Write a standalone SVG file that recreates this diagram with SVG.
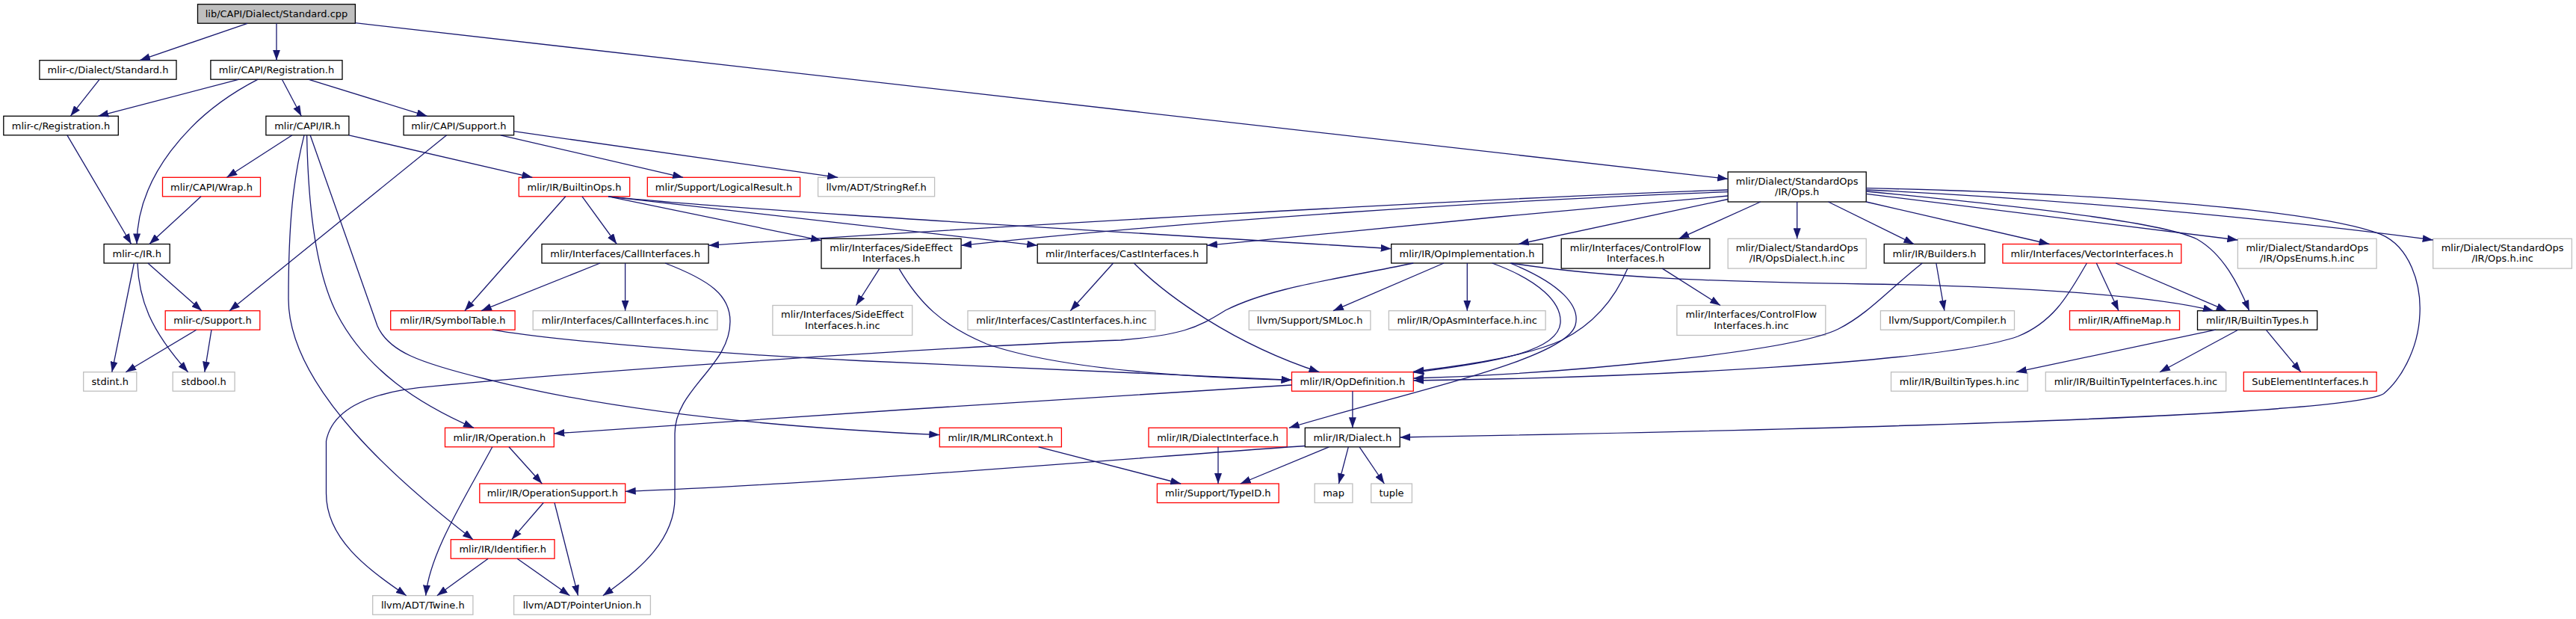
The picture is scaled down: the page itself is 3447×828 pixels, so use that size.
<svg xmlns="http://www.w3.org/2000/svg" width="3447" height="828" viewBox="0 0 3447 828">
<style>
rect{stroke-width:1.3}
.b rect{fill:#fff;stroke:#000}
.r rect{fill:#fff;stroke:#ff0000}
.g rect{fill:#fff;stroke:#bfbfbf}
.root rect{fill:#bfbfbf;stroke:#000}
text{font-family:"DejaVu Sans","Liberation Sans",sans-serif;font-size:13px;text-anchor:middle;fill:#000}
.e{fill:none;stroke:#191970;stroke-width:1.3;marker-end:url(#ah)}
</style>
<defs>
<marker id="ah" markerUnits="userSpaceOnUse" markerWidth="14" markerHeight="10" viewBox="0 0 14 10" refX="14" refY="5" orient="auto"><path d="M0,0 L14,5 L0,10 z" fill="#191970"/></marker>
</defs>
<rect width="3447" height="828" fill="#fff"/>
<g id="nodes">
<g id="n_root" class="root"><rect x="264.5" y="5.7" width="210.9" height="25.5"/><text x="370" y="22.95">lib/CAPI/Dialect/Standard.cpp</text></g>
<g id="n_cstd" class="b"><rect x="52.9" y="80.7" width="183.1" height="25.5"/><text x="144.5" y="97.95">mlir-c/Dialect/Standard.h</text></g>
<g id="n_capireg" class="b"><rect x="281.9" y="80.7" width="176.1" height="25.5"/><text x="370" y="97.95">mlir/CAPI/Registration.h</text></g>
<g id="n_creg" class="b"><rect x="4.8" y="155.3" width="153.5" height="25.5"/><text x="81.5" y="172.55">mlir-c/Registration.h</text></g>
<g id="n_capiir" class="b"><rect x="355.9" y="155.3" width="111" height="25.5"/><text x="411.4" y="172.55">mlir/CAPI/IR.h</text></g>
<g id="n_capisup" class="b"><rect x="540.1" y="155.3" width="147.5" height="25.5"/><text x="613.9" y="172.55">mlir/CAPI/Support.h</text></g>
<g id="n_ops" class="b"><rect x="2312.2" y="230" width="185" height="40"/><text x="2404.7" y="246.5">mlir/Dialect/StandardOps</text><text x="2404.7" y="261">/IR/Ops.h</text></g>
<g id="n_wrap" class="r"><rect x="217.5" y="237.3" width="131" height="25.5"/><text x="283" y="254.55">mlir/CAPI/Wrap.h</text></g>
<g id="n_bops" class="r"><rect x="694.3" y="237.3" width="148.4" height="25.5"/><text x="768.5" y="254.55">mlir/IR/BuiltinOps.h</text></g>
<g id="n_lres" class="r"><rect x="866.3" y="237.3" width="204.3" height="25.5"/><text x="968.5" y="254.55">mlir/Support/LogicalResult.h</text></g>
<g id="n_sref" class="g"><rect x="1094.6" y="237.3" width="156" height="25.5"/><text x="1172.6" y="254.55">llvm/ADT/StringRef.h</text></g>
<g id="n_cir" class="b"><rect x="139.1" y="326.5" width="88.1" height="25.5"/><text x="183.2" y="343.75">mlir-c/IR.h</text></g>
<g id="n_call" class="b"><rect x="725" y="326.5" width="223.1" height="25.5"/><text x="836.6" y="343.75">mlir/Interfaces/CallInterfaces.h</text></g>
<g id="n_side" class="b"><rect x="1099" y="319.3" width="187.1" height="39.8"/><text x="1192.6" y="335.7">mlir/Interfaces/SideEffect</text><text x="1192.6" y="350.2">Interfaces.h</text></g>
<g id="n_cast" class="b"><rect x="1388.2" y="326.5" width="226.8" height="25.5"/><text x="1501.6" y="343.75">mlir/Interfaces/CastInterfaces.h</text></g>
<g id="n_opimpl" class="b"><rect x="1861.7" y="326.5" width="202.7" height="25.5"/><text x="1963" y="343.75">mlir/IR/OpImplementation.h</text></g>
<g id="n_cf" class="b"><rect x="2089.2" y="319.3" width="198.7" height="39.8"/><text x="2188.6" y="335.7">mlir/Interfaces/ControlFlow</text><text x="2188.6" y="350.2">Interfaces.h</text></g>
<g id="n_opsdialect" class="g"><rect x="2312.2" y="319.3" width="185" height="39.8"/><text x="2404.7" y="335.7">mlir/Dialect/StandardOps</text><text x="2404.7" y="350.2">/IR/OpsDialect.h.inc</text></g>
<g id="n_builders" class="b"><rect x="2521.2" y="326.5" width="134.7" height="25.5"/><text x="2588.6" y="343.75">mlir/IR/Builders.h</text></g>
<g id="n_vector" class="r"><rect x="2679.9" y="326.5" width="238.9" height="25.5"/><text x="2799.4" y="343.75">mlir/Interfaces/VectorInterfaces.h</text></g>
<g id="n_opsenums" class="g"><rect x="2994.4" y="319.3" width="185.7" height="39.8"/><text x="3087.3" y="335.7">mlir/Dialect/StandardOps</text><text x="3087.3" y="350.2">/IR/OpsEnums.h.inc</text></g>
<g id="n_opsinc" class="g"><rect x="3255.7" y="319.3" width="185.7" height="39.8"/><text x="3348.6" y="335.7">mlir/Dialect/StandardOps</text><text x="3348.6" y="350.2">/IR/Ops.h.inc</text></g>
<g id="n_csup" class="r"><rect x="221.2" y="415.7" width="126.6" height="25.5"/><text x="284.5" y="432.95">mlir-c/Support.h</text></g>
<g id="n_symtab" class="r"><rect x="522.7" y="415.7" width="166.4" height="25.5"/><text x="605.9" y="432.95">mlir/IR/SymbolTable.h</text></g>
<g id="n_callinc" class="g"><rect x="713.2" y="415.7" width="246.7" height="25.5"/><text x="836.6" y="432.95">mlir/Interfaces/CallInterfaces.h.inc</text></g>
<g id="n_sideinc" class="g"><rect x="1033.9" y="408.5" width="186.8" height="40"/><text x="1127.3" y="425">mlir/Interfaces/SideEffect</text><text x="1127.3" y="439.5">Interfaces.h.inc</text></g>
<g id="n_castinc" class="g"><rect x="1295" y="415.7" width="250.8" height="25.5"/><text x="1420.4" y="432.95">mlir/Interfaces/CastInterfaces.h.inc</text></g>
<g id="n_smloc" class="g"><rect x="1671.3" y="415.7" width="162.6" height="25.5"/><text x="1752.6" y="432.95">llvm/Support/SMLoc.h</text></g>
<g id="n_opasm" class="g"><rect x="1858.4" y="415.7" width="209.7" height="25.5"/><text x="1963.3" y="432.95">mlir/IR/OpAsmInterface.h.inc</text></g>
<g id="n_cfinc" class="g"><rect x="2243.9" y="408.5" width="198.9" height="40"/><text x="2343.4" y="425">mlir/Interfaces/ControlFlow</text><text x="2343.4" y="439.5">Interfaces.h.inc</text></g>
<g id="n_compiler" class="g"><rect x="2516.4" y="415.7" width="179.1" height="25.5"/><text x="2606" y="432.95">llvm/Support/Compiler.h</text></g>
<g id="n_affine" class="r"><rect x="2769.5" y="415.7" width="147" height="25.5"/><text x="2843" y="432.95">mlir/IR/AffineMap.h</text></g>
<g id="n_btypes" class="b"><rect x="2940.5" y="415.7" width="160.2" height="25.5"/><text x="3020.6" y="432.95">mlir/IR/BuiltinTypes.h</text></g>
<g id="n_stdint" class="g"><rect x="111.7" y="497.7" width="71.1" height="25.5"/><text x="147.3" y="514.95">stdint.h</text></g>
<g id="n_stdbool" class="g"><rect x="231.2" y="497.7" width="82.9" height="25.5"/><text x="272.7" y="514.95">stdbool.h</text></g>
<g id="n_opdef" class="r"><rect x="1728.5" y="497.7" width="162.8" height="25.5"/><text x="1809.9" y="514.95">mlir/IR/OpDefinition.h</text></g>
<g id="n_btinc" class="g"><rect x="2530.5" y="497.7" width="182.7" height="25.5"/><text x="2621.9" y="514.95">mlir/IR/BuiltinTypes.h.inc</text></g>
<g id="n_btiinc" class="g"><rect x="2737.3" y="497.7" width="241.4" height="25.5"/><text x="2858" y="514.95">mlir/IR/BuiltinTypeInterfaces.h.inc</text></g>
<g id="n_subel" class="r"><rect x="3002.3" y="497.7" width="177.8" height="25.5"/><text x="3091.2" y="514.95">SubElementInterfaces.h</text></g>
<g id="n_operation" class="r"><rect x="595.5" y="572.3" width="145.8" height="25.5"/><text x="668.4" y="589.55">mlir/IR/Operation.h</text></g>
<g id="n_mlirctx" class="r"><rect x="1257.3" y="572.3" width="163.1" height="25.5"/><text x="1338.9" y="589.55">mlir/IR/MLIRContext.h</text></g>
<g id="n_dialintf" class="r"><rect x="1537" y="572.3" width="185.2" height="25.5"/><text x="1629.6" y="589.55">mlir/IR/DialectInterface.h</text></g>
<g id="n_dialect" class="b"><rect x="1746.3" y="572.3" width="126.9" height="25.5"/><text x="1809.8" y="589.55">mlir/IR/Dialect.h</text></g>
<g id="n_opsup" class="r"><rect x="641.8" y="647" width="194.9" height="25.5"/><text x="739.3" y="664.25">mlir/IR/OperationSupport.h</text></g>
<g id="n_typeid" class="r"><rect x="1548.4" y="647" width="162.8" height="25.5"/><text x="1629.8" y="664.25">mlir/Support/TypeID.h</text></g>
<g id="n_map" class="g"><rect x="1759.2" y="647" width="50.7" height="25.5"/><text x="1784.6" y="664.25">map</text></g>
<g id="n_tuple" class="g"><rect x="1834.7" y="647" width="54.7" height="25.5"/><text x="1862" y="664.25">tuple</text></g>
<g id="n_ident" class="r"><rect x="603.3" y="721.7" width="138.7" height="25.5"/><text x="672.7" y="738.95">mlir/IR/Identifier.h</text></g>
<g id="n_twine" class="g"><rect x="498.7" y="796.7" width="134.2" height="25.5"/><text x="565.8" y="813.95">llvm/ADT/Twine.h</text></g>
<g id="n_punion" class="g"><rect x="687.6" y="796.7" width="182.8" height="25.5"/><text x="779" y="813.95">llvm/ADT/PointerUnion.h</text></g>
</g>
<g id="edges">
<path class="e" d="M331,31.3 L187,80.7"/>
<path class="e" d="M370,31.3 L370,80.7"/>
<path class="e" d="M475.4,30.7 L2312.2,239.3"/>
<path class="e" d="M133.2,106.2 L94.3,155.3"/>
<path class="e" d="M320,106.2 L131.3,155.3"/>
<path class="e" d="M345.2,106.2 C250,155 183,240 183.1,326.5"/>
<path class="e" d="M377.4,106.2 L403.3,155.3"/>
<path class="e" d="M412.5,106.2 L571.6,155.3"/>
<path class="e" d="M89.9,180.8 L175.7,326.5"/>
<path class="e" d="M391,180.8 L303.4,237.3"/>
<path class="e" d="M466.9,180.8 L712.4,237.3"/>
<path class="e" d="M407,180.8 C392,240 386,300 386,400 C386,520 540,650 633,721.7"/>
<path class="e" d="M410.6,180.8 C412,260 420,360 451,420 C490,495 560,540 634,572.3"/>
<path class="e" d="M415.1,180.8 L505,436 C520,470 560,485 650,507 C800,545 1000,570 1257.3,581.7"/>
<path class="e" d="M597.7,180.8 L307,415.7"/>
<path class="e" d="M669.9,180.8 L914.1,237.3"/>
<path class="e" d="M687.6,175.7 L1121.2,237.3"/>
<path class="e" d="M269,262.8 L199.8,326.5"/>
<path class="e" d="M179.4,352 L149.8,497.7"/>
<path class="e" d="M183.9,352 C186,400 200,440 251.6,497.7"/>
<path class="e" d="M197.9,352 L270,415.7"/>
<path class="e" d="M262.7,441.2 L168.3,497.7"/>
<path class="e" d="M283,441.2 L273.8,497.7"/>
<path class="e" d="M756.8,262.8 L621.8,415.7"/>
<path class="e" d="M779,262.8 L825.3,326.5"/>
<path class="e" d="M814,262.8 L1099,321.7"/>
<path class="e" d="M814,262.8 L1388.2,328.3"/>
<path class="e" d="M814,262.8 C1000,282 1500,310 1861.7,332.7"/>
<path class="e" d="M2312.2,254 C2000,264 1300,305 948.1,328.3"/>
<path class="e" d="M2312.2,256.7 C2000,268 1600,295 1286.1,328.3"/>
<path class="e" d="M2312.2,262 C2100,280 1800,310 1615,328.3"/>
<path class="e" d="M2312.2,266.5 L2031.9,326.5"/>
<path class="e" d="M2355.8,270 L2246.4,319.3"/>
<path class="e" d="M2404.7,270 L2404.7,319.3"/>
<path class="e" d="M2446.5,270 L2561.2,326.5"/>
<path class="e" d="M2497.2,270 L2742.4,326.5"/>
<path class="e" d="M2497.2,251.7 C2800,258 3100,280 3185.7,313.3 C3225,330 3240,380 3238,420 C3236,470 3210,510 3189.5,526.7 C3150,550 2700,570 1873.2,585"/>
<path class="e" d="M2497.2,254 C2800,268 3100,300 3255.7,321"/>
<path class="e" d="M2497.2,256 C2750,280 2900,300 2940,320 C2975,340 2995,380 3009.8,415.7"/>
<path class="e" d="M2497.2,259.3 L2994.4,321"/>
<path class="e" d="M803,352 L644,415.7"/>
<path class="e" d="M836.6,352 L836.6,415.7"/>
<path class="e" d="M890,352 C950,375 977,395 977,430 C977,490 903,520 903,580 L903,666 C903,720 860,760 806.8,796.7"/>
<path class="e" d="M1177,359.1 L1145.5,408.5"/>
<path class="e" d="M1202.9,359.1 C1230,405 1260,435 1320,460 C1420,495 1600,505 1728.5,508.3"/>
<path class="e" d="M1489.6,352 L1432.3,415.7"/>
<path class="e" d="M1517.4,352 C1560,395 1650,460 1765.5,497.7"/>
<path class="e" d="M1891.3,352 C1780,375 1700,385 1640,415 C1600,440 1580,448 1500,455 C1300,462 800,495 580,516.7 C500,523 445,545 436.5,590 L436.5,660 C436.5,720 490,760 543.8,796.7"/>
<path class="e" d="M1932,352 L1784,415.7"/>
<path class="e" d="M1963.3,352 L1963.3,415.7"/>
<path class="e" d="M1996.7,352 C2060,375 2090,405 2088,432 C2085,470 2000,485 1891.3,498.3"/>
<path class="e" d="M2020.8,352 C2090,380 2115,410 2108,435 C2095,480 1900,520 1724.8,572.3"/>
<path class="e" d="M2022,352 C2150,372 2300,377 2500,380 C2700,383 2880,395 2962,415.7"/>
<path class="e" d="M2178,359.1 C2165,390 2140,430 2090,455 C2040,478 1950,490 1891.3,497"/>
<path class="e" d="M2224.3,359.1 L2302,408.5"/>
<path class="e" d="M2572.3,352 C2530,385 2500,420 2460,440 C2400,470 2100,500 1891.3,506"/>
<path class="e" d="M2590.8,352 L2601.9,415.7"/>
<path class="e" d="M2792.4,352 C2770,390 2750,430 2700,450 C2600,485 2200,505 1891.3,509"/>
<path class="e" d="M2805.3,352 L2835,415.7"/>
<path class="e" d="M2831.2,352 L2979.8,415.7"/>
<path class="e" d="M2964.8,441.2 L2698,497.7"/>
<path class="e" d="M2994.8,441.2 L2890,497.7"/>
<path class="e" d="M3032.2,441.2 L3079,497.7"/>
<path class="e" d="M658.8,441.2 C720,452 900,470 1150,482.5 C1400,494 1600,503 1728.5,508.3"/>
<path class="e" d="M1728.5,515 C1500,530 1000,560 741.3,580"/>
<path class="e" d="M1809.9,523.2 L1809.9,572.3"/>
<path class="e" d="M681,597.8 L725.4,647"/>
<path class="e" d="M658.8,597.8 C620,670 575,740 569.7,796.7"/>
<path class="e" d="M1389.7,597.8 L1580.2,647"/>
<path class="e" d="M1630,597.8 L1630,647"/>
<path class="e" d="M1746.3,596.5 C1550,610 1100,648 836.7,657.3"/>
<path class="e" d="M1778.4,597.8 L1659.8,647"/>
<path class="e" d="M1804.3,597.8 L1791.4,647"/>
<path class="e" d="M1819.1,597.8 L1852.4,647"/>
<path class="e" d="M727.2,672.5 L684.7,721.7"/>
<path class="e" d="M742,672.5 L773.5,796.7"/>
<path class="e" d="M653.2,747.2 L584.8,796.7"/>
<path class="e" d="M692.1,747.2 L762.4,796.7"/>
</g>
</svg>
